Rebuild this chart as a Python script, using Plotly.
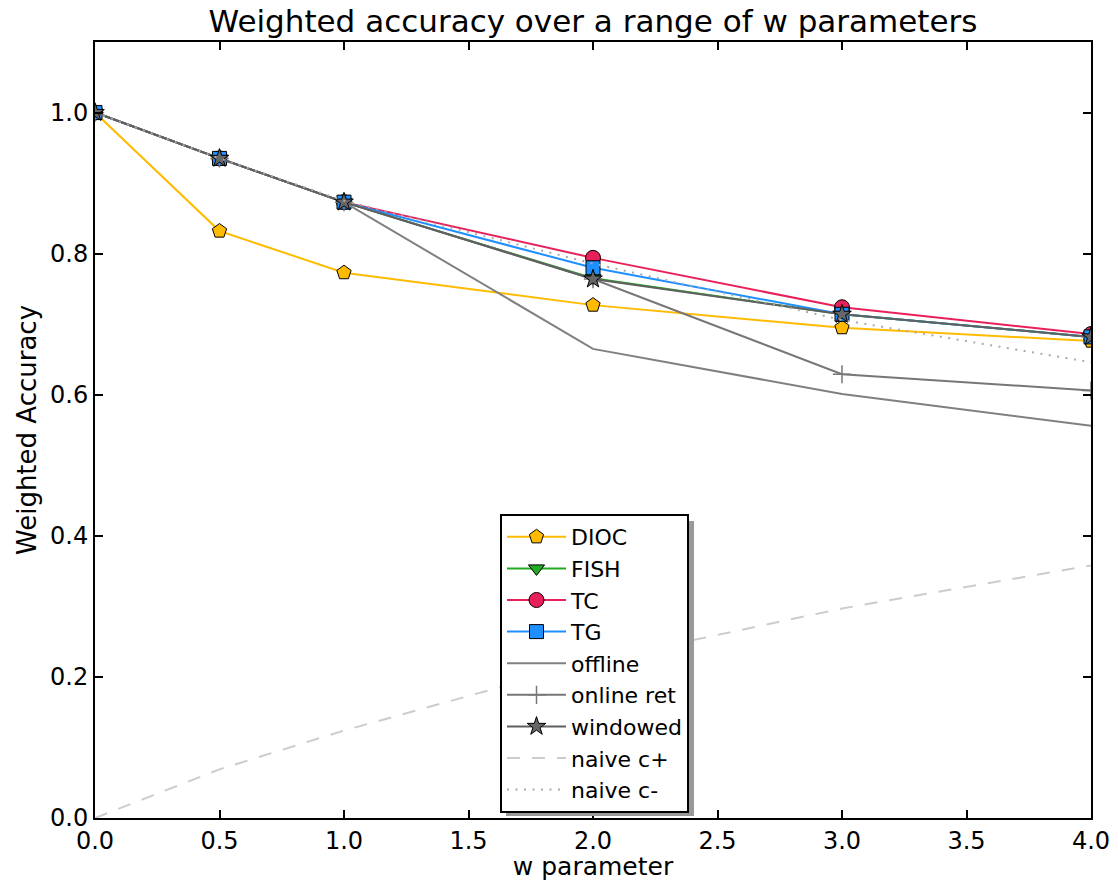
import plotly.graph_objects as go

w = [0.0, 0.5, 1.0, 2.0, 3.0, 4.0]

dioc = [1.0, 0.832, 0.773, 0.727, 0.695, 0.676]
fish = [1.0, 0.935, 0.873, 0.765, 0.714, 0.682]
tc = [1.0, 0.935, 0.873, 0.794, 0.724, 0.686]
tg = [1.0, 0.935, 0.873, 0.780, 0.714, 0.682]
offline = [1.0, 0.935, 0.873, 0.665, 0.601, 0.556]
online_ret = [1.0, 0.935, 0.873, 0.764, 0.629, 0.606]
windowed = [1.0, 0.935, 0.873, 0.764, 0.714, 0.682]
naive_cp = [0.0, 0.069, 0.124, 0.222, 0.297, 0.358]
naive_cm = [1.0, 0.935, 0.875, 0.786, 0.706, 0.646]

x_ticks = [0.0, 0.5, 1.0, 1.5, 2.0, 2.5, 3.0, 3.5, 4.0]
y_ticks = [0.0, 0.2, 0.4, 0.6, 0.8, 1.0]

FONT = "DejaVu Sans"

fig = go.Figure()

series = [
    ("DIOC", dioc, "#FFBB00", "pentagon", "solid", 15, "lines+markers", "#FFBB00"),
    ("FISH", fish, "#22AA22", "triangle-down", "solid", 14, "lines+markers", "#22AA22"),
    ("TC", tc, "#E8215B", "circle", "solid", 15, "lines+markers", "#E8215B"),
    ("TG", tg, "#1E8FFF", "square", "solid", 14, "lines+markers", "#1E8FFF"),
    ("offline", offline, "#808080", None, "solid", 0, "lines", None),
    ("online ret", online_ret, "#777777", "cross-thin", "solid", 13, "lines+markers", None),
    ("windowed", windowed, "#606060", "star", "solid", 14, "lines+markers", "#666666"),
    ("naive c+", naive_cp, "#CCCCCC", None, "13px,12px", 0, "lines", None),
    ("naive c-", naive_cm, "#AAAAAA", None, "2px,6.5px", 0, "lines", None),
]

for name, ys, color, sym, dash, msize, mode, mfill in series:
    kw = dict(x=w, y=ys, name=name, mode=mode, legendgroup=name,
              line=dict(color=color, width=2, dash=dash))
    if sym is not None:
        if sym == "cross-thin":
            kw["marker"] = dict(symbol=sym, size=msize, line=dict(color=color, width=1.5))
        else:
            kw["marker"] = dict(symbol=sym, size=msize, color=mfill,
                                line=dict(color="black", width=1))
    fig.add_trace(go.Scatter(**kw))

axis_common = dict(
    showline=True, linecolor="black", linewidth=2, mirror="ticks",
    ticks="inside", ticklen=8, tickwidth=1.5, tickcolor="black",
    showgrid=False, zeroline=False, automargin=False,
    tickfont=dict(family=FONT, size=24, color="black"),
)

fig.update_xaxes(range=[0, 4], tickvals=x_ticks, ticktext=[f"{v:.1f}" for v in x_ticks],
                 title=dict(text="w parameter", font=dict(family=FONT, size=25, color="black"), standoff=5),
                 **axis_common)
fig.update_yaxes(range=[0, 1.1], tickvals=y_ticks, ticktext=[f"{v:.1f}" for v in y_ticks],
                 title=dict(text="Weighted Accuracy", font=dict(family=FONT, size=26, color="black"), standoff=6),
                 **axis_common)

# legend shadow (pixel box of the drawn legend, offset down-right)
sx0, sx1, sy0, sy1 = 506, 694, 521, 816
W, H = 1118, 881
L, R, T, B = 95, 27, 42, 63
pw, ph = W - L - R, H - T - B
def px_x(p):
    return (p - L) / pw
def px_y(p):
    return (H - B - p) / ph
fig.add_shape(type="rect", xref="paper", yref="paper",
              x0=px_x(sx0), x1=px_x(sx1), y0=px_y(sy1), y1=px_y(sy0),
              fillcolor="#999999", line=dict(width=0), layer="above")

fig.update_layout(
    width=W, height=H,
    margin=dict(l=L, r=R, t=T, b=B, autoexpand=False),
    paper_bgcolor="white", plot_bgcolor="white",
    font=dict(family=FONT, color="black"),
    title=dict(text="Weighted accuracy over a range of w parameters",
               font=dict(family=FONT, size=31, color="black"),
               x=(L + pw / 2) / W, xanchor="center", y=1 - 21 / H, yanchor="middle"),
    legend=dict(x=px_x(500), y=px_y(514), xanchor="left", yanchor="top",
                bgcolor="white", bordercolor="black", borderwidth=2,
                font=dict(family=FONT, size=22, color="black"),
                tracegroupgap=0, itemwidth=59),
    showlegend=True,
)

fig.write_html("out.html")
